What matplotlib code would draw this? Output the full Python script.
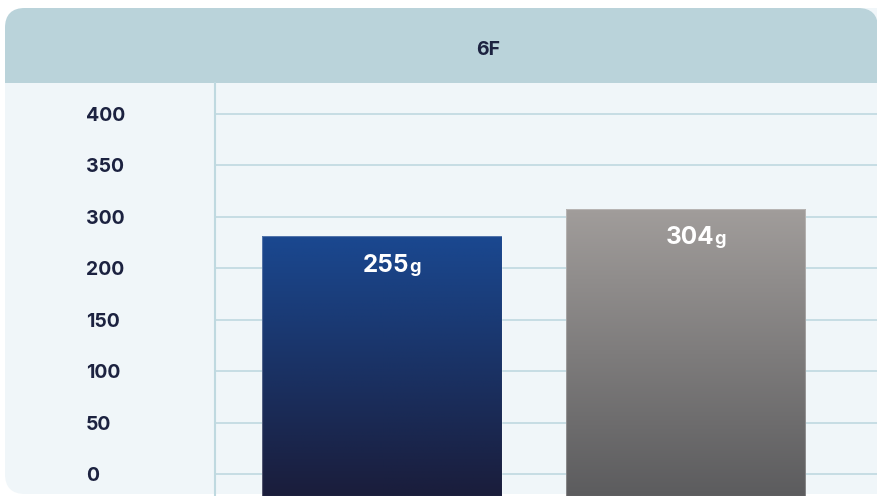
import matplotlib
matplotlib.use('Agg')
import matplotlib.pyplot as plt
import numpy as np
from matplotlib.patches import FancyBboxPatch, Rectangle
from matplotlib.offsetbox import TextArea, HPacker, AnnotationBbox
from matplotlib.colors import LinearSegmentedColormap

plt.rcParams['font.family'] = ['Inter', 'DejaVu Sans']

# data
title = '6F'
categories = ['A', 'B']
values = [255, 304]
unit = 'g'
tick_labels = ['0', '50', '100', '150', '200', '300', '350', '400']

header_col = '#bad3da'
body_col = '#f0f6f9'
grid_col = '#bfd9e0'
text_col = '#1c2240'
bar_grads = [('#1a4890', '#1a1d3b'), ('#a19d9b', '#5c5c5e')]

W, H = 878, 496
fig = plt.figure(figsize=(W / 100, H / 100), dpi=100)

# card background in pixel coords
bg = fig.add_axes([0, 0, 1, 1])
bg.set_xlim(0, W)
bg.set_ylim(H, 0)
bg.axis('off')
bg.add_patch(FancyBboxPatch((5, 8), 900, 486, boxstyle='round,pad=0,rounding_size=20',
                            fc=body_col, ec='none'))
bg.add_patch(FancyBboxPatch((5, 8), W - 5, 110, boxstyle='round,pad=0,rounding_size=20',
                            fc=header_col, ec='none'))
bg.add_patch(Rectangle((5, 83), 900, 40, fc=body_col, ec='none'))
bg.text(488, 50, title, ha='center', va='center', fontsize=14, fontweight='bold', color=text_col)

# plot area rect (pixels)
x0, x1 = 215, W
y_top, y_bot = 83, H
rect = [x0 / W, 1 - y_bot / H, (x1 - x0) / W, (y_bot - y_top) / H]

# grid axes: evenly spaced ticks
ax = fig.add_axes(rect)
ax.patch.set_alpha(0)
step = 51.43
g0 = 474
ax.set_ylim((g0 - y_bot) / step, (g0 - y_top) / step)
ax.set_xlim(0, 1)
ticks = np.arange(len(tick_labels))
ax.set_yticks(ticks)
ax.set_yticklabels(tick_labels, ha='left', fontsize=14, fontweight='bold', color=text_col)
ax.tick_params(axis='y', length=0, pad=(x0 - 86) * 0.72)
ax.set_xticks([])
ax.grid(axis='y', color=grid_col, lw=1.2)
for s in ['top', 'right', 'bottom']:
    ax.spines[s].set_visible(False)
ax.spines['left'].set_color(grid_col)
ax.spines['left'].set_linewidth(1.5)

# bar axes
bx = fig.add_axes(rect)
bx.patch.set_alpha(0)
bx.axis('off')
ppu = (236 - 208.7) / (values[1] - values[0])
ylo = values[0] - (y_bot - 236) / ppu
yhi = values[0] + (236 - y_top) / ppu
xs = np.arange(len(categories))
xlo = (x0 - 382) / 303.5
xhi = (x1 - 382) / 303.5
bars = bx.bar(xs, [v - ylo for v in values], bottom=ylo, width=0.79, color='none',
              edgecolor='none')
for b, (c_top, c_bot) in zip(bars, bar_grads):
    cmap = LinearSegmentedColormap.from_list('g', [c_bot, c_top])
    grad = np.linspace(0, 1, 256).reshape(-1, 1)
    im = bx.imshow(grad, cmap=cmap, aspect='auto', origin='lower',
                   extent=[b.get_x(), b.get_x() + b.get_width(), ylo, b.get_y() + b.get_height()],
                   zorder=2)
    im.set_clip_path(b)
    bx.add_patch(Rectangle((b.get_x(), b.get_y()), b.get_width(), b.get_height(),
                           fc='none', ec=(1, 1, 1, 0.25), lw=0.8, zorder=3))

for x, v in zip(xs, values):
    t1 = TextArea(str(v), textprops=dict(fontsize=17.5, fontweight='bold', color='white'))
    t2 = TextArea(unit, textprops=dict(fontsize=13, fontweight='bold', color='white'))
    pack = HPacker(children=[t1, t2], align='baseline', pad=0, sep=0)
    ab = AnnotationBbox(pack, (x, v), xybox=(10 * 0.72, -29 * 0.72), boxcoords='offset points',
                        frameon=False, box_alignment=(0.5, 0.5), zorder=5)
    bx.add_artist(ab)

bx.set_xlim(xlo, xhi)
bx.set_ylim(ylo, yhi)

fig.savefig('out.png', dpi=100)
